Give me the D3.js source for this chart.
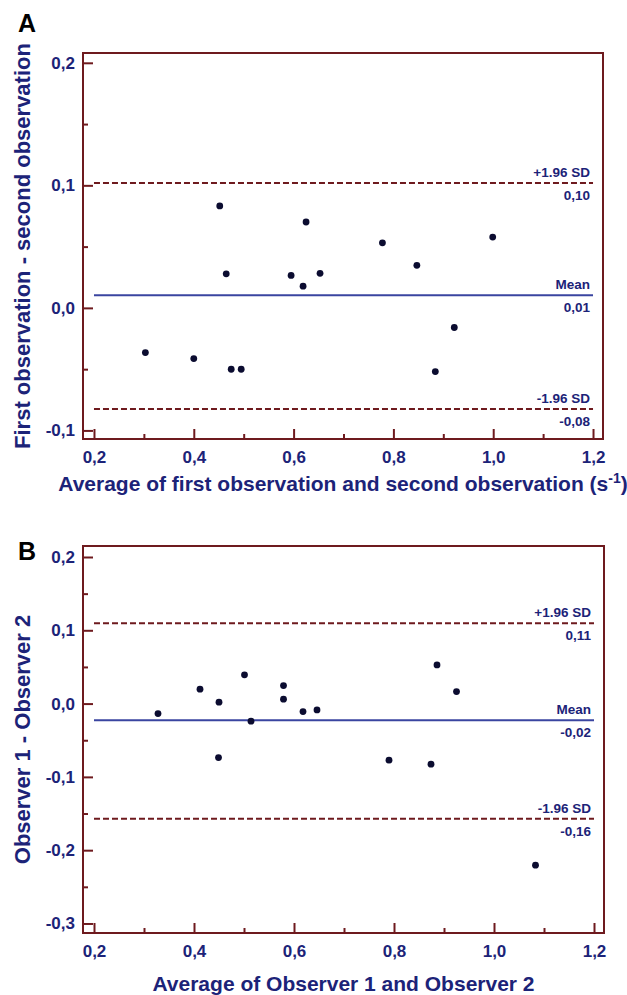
<!DOCTYPE html>
<html>
<head>
<meta charset="utf-8">
<script src="https://cdn.jsdelivr.net/npm/d3@7"></script>
<style>
  body { margin: 0; background: #fff; }
  svg text { font-family: "Liberation Sans", Arial, sans-serif; font-weight: bold; }
</style>
</head>
<body>
<div id="chart"></div>
<script>
// Panel A - first vs second observation
const aAverage = [0.303, 0.400, 0.452, 0.465, 0.475, 0.495, 0.595, 0.619, 0.625, 0.653, 0.778, 0.847, 0.884, 0.922, 0.999];
const aDifference = [-0.0365, -0.0414, 0.0832, 0.0278, -0.0501, -0.0501, 0.0265, 0.0177, 0.0701, 0.0282, 0.0531, 0.0347, -0.052, -0.016, 0.0578];
const aLimits = [0.102, 0.0104, -0.0826];
const aLimitLabels = ["0,10", "0,01", "-0,08"];
const aYTicks = [-0.1, 0, 0.1, 0.2];
const aYMinorTicks = [-0.05, 0.05, 0.15];

// Panel B - observer 1 vs observer 2
const bAverage = [0.328, 0.412, 0.450, 0.501, 0.514, 0.579, 0.579, 0.618, 0.646, 0.886, 0.925, 0.449, 0.790, 0.874, 1.083];
const bDifference = [-0.0136, 0.0196, 0.0019, 0.0392, -0.024, 0.0246, 0.006, -0.0109, -0.0086, 0.0528, 0.0164, -0.0737, -0.0772, -0.0827, -0.2205];
const bLimits = [0.1097, -0.0227, -0.157];
const bLimitLabels = ["0,11", "-0,02", "-0,16"];
const bYTicks = [-0.3, -0.2, -0.1, 0, 0.1, 0.2];
const bYMinorTicks = [-0.25, -0.15, -0.05, 0.05, 0.15];

const limitNames = ["+1.96 SD", "Mean", "-1.96 SD"];
const xTicks = [0.2, 0.4, 0.6, 0.8, 1.0, 1.2];
const xMinorTicks = [0.3, 0.5, 0.7, 0.9, 1.1];

const maroon = "#6e1a1e";
const navy = "#1c2378";
const meanBlue = "#3a45a0";

const fmt = d3.formatLocale({decimal: ",", thousands: ".", grouping: [3], currency: ["", ""], minus: "-"}).format(".1f");

const svg = d3.select("#chart").append("svg")
    .attr("width", 627)
    .attr("height", 995);

class BlandAltman {
  constructor(_config) {
    this.config = {
      left: _config.left,
      right: _config.right,
      top: _config.top,
      bottom: _config.bottom,
      yDomain: _config.yDomain,
      yTicks: _config.yTicks,
      yMinorTicks: _config.yMinorTicks,
      average: _config.average,
      difference: _config.difference,
      limits: _config.limits,
      limitLabels: _config.limitLabels,
      letter: _config.letter,
      letterY: _config.letterY,
      yTitle: _config.yTitle,
      xTitle: _config.xTitle,
      xTitleY: _config.xTitleY
    }
  }

  initVis() {
    let vis = this;
    let c = vis.config;
    vis.g = svg.append("g");

    vis.xScale = d3.scaleLinear()
        .domain([0.178, 1.22])
        .range([c.left, c.right]);
    vis.yScale = d3.scaleLinear()
        .domain(c.yDomain)
        .range([c.bottom, c.top]);

    // ticks point inward, labels outside
    vis.styleAxis(vis.g.append("g")
        .attr("transform", `translate(0, ${c.bottom})`)
        .call(d3.axisBottom(vis.xScale).tickValues(xTicks).tickSize(-10).tickPadding(12).tickFormat(fmt)));
    vis.styleAxis(vis.g.append("g")
        .attr("transform", `translate(0, ${c.bottom})`)
        .call(d3.axisBottom(vis.xScale).tickValues(xMinorTicks).tickSize(-5).tickFormat("")));
    vis.styleAxis(vis.g.append("g")
        .attr("transform", `translate(${c.left}, 0)`)
        .call(d3.axisLeft(vis.yScale).tickValues(c.yTicks).tickSize(-10).tickPadding(8).tickFormat(fmt)));
    vis.styleAxis(vis.g.append("g")
        .attr("transform", `translate(${c.left}, 0)`)
        .call(d3.axisLeft(vis.yScale).tickValues(c.yMinorTicks).tickSize(-5).tickFormat("")));

    vis.g.append("rect")
        .attr("x", c.left)
        .attr("y", c.top)
        .attr("width", c.right - c.left)
        .attr("height", c.bottom - c.top)
        .attr("fill", "none")
        .attr("stroke", maroon)
        .attr("stroke-width", 2);

    vis.render();
  }

  styleAxis(axis) {
    axis.select(".domain").remove();
    axis.selectAll(".tick line").attr("stroke", maroon).attr("stroke-width", 2);
    axis.selectAll(".tick text")
        .attr("fill", navy)
        .attr("font-size", 17)
        .attr("font-family", null);
  }

  render() {
    let vis = this;
    let c = vis.config;
    let x0 = vis.xScale(0.2), x1 = vis.xScale(1.2);

    // limits of agreement + mean
    c.limits.forEach((v, i) => {
      let y = vis.yScale(v);
      vis.g.append("line")
          .attr("x1", x0).attr("x2", x1)
          .attr("y1", y).attr("y2", y)
          .attr("stroke", i === 1 ? meanBlue : maroon)
          .attr("stroke-width", 2)
          .attr("stroke-dasharray", i === 1 ? null : "6,3");
      vis.g.append("text")
          .attr("x", x1 - 3).attr("y", y - 6)
          .attr("text-anchor", "end")
          .attr("font-size", 13.5)
          .attr("fill", navy)
          .text(limitNames[i]);
      vis.g.append("text")
          .attr("x", x1 - 3).attr("y", y + 17)
          .attr("text-anchor", "end")
          .attr("font-size", 13.5)
          .attr("fill", navy)
          .text(c.limitLabels[i]);
    });

    let points = c.average.map((a, i) => ({avg: a, diff: c.difference[i]}));
    vis.g.selectAll("circle.pt").data(points).enter().append("circle")
        .attr("class", "pt")
        .attr("cx", d => vis.xScale(d.avg))
        .attr("cy", d => vis.yScale(d.diff))
        .attr("r", 3.4)
        .attr("fill", "#0b0c30");

    vis.g.append("text")
        .attr("x", 18).attr("y", c.letterY)
        .attr("font-size", 25)
        .attr("fill", "#000")
        .text(c.letter);

    vis.g.append("text")
        .attr("transform", `translate(30, ${(c.top + c.bottom) / 2}) rotate(-90)`)
        .attr("text-anchor", "middle")
        .attr("font-size", 22)
        .attr("fill", navy)
        .text(c.yTitle);

    let xt = vis.g.append("text")
        .attr("x", (c.left + c.right) / 2)
        .attr("y", c.xTitleY)
        .attr("text-anchor", "middle")
        .attr("font-size", 21)
        .attr("fill", navy);
    if (c.xTitle.sup) {
      xt.append("tspan").text(c.xTitle.text);
      xt.append("tspan").attr("dy", -8).attr("font-size", 14).text(c.xTitle.sup);
      xt.append("tspan").attr("dy", 8).text(")");
    } else {
      xt.text(c.xTitle.text);
    }
  }
}

let panelA = new BlandAltman({
  left: 83, right: 603, top: 53, bottom: 439,
  yDomain: [-0.107, 0.208],
  yTicks: aYTicks, yMinorTicks: aYMinorTicks,
  average: aAverage, difference: aDifference,
  limits: aLimits, limitLabels: aLimitLabels,
  letter: "A", letterY: 32,
  yTitle: "First observation - second observation",
  xTitle: {text: "Average of first observation and second observation (s", sup: "-1"},
  xTitleY: 491
});
panelA.initVis();

let panelB = new BlandAltman({
  left: 83, right: 604, top: 546, bottom: 933,
  yDomain: [-0.313, 0.215],
  yTicks: bYTicks, yMinorTicks: bYMinorTicks,
  average: bAverage, difference: bDifference,
  limits: bLimits, limitLabels: bLimitLabels,
  letter: "B", letterY: 560,
  yTitle: "Observer 1 - Observer 2",
  xTitle: {text: "Average of Observer 1 and Observer 2"},
  xTitleY: 991
});
panelB.initVis();
</script>
</body>
</html>
